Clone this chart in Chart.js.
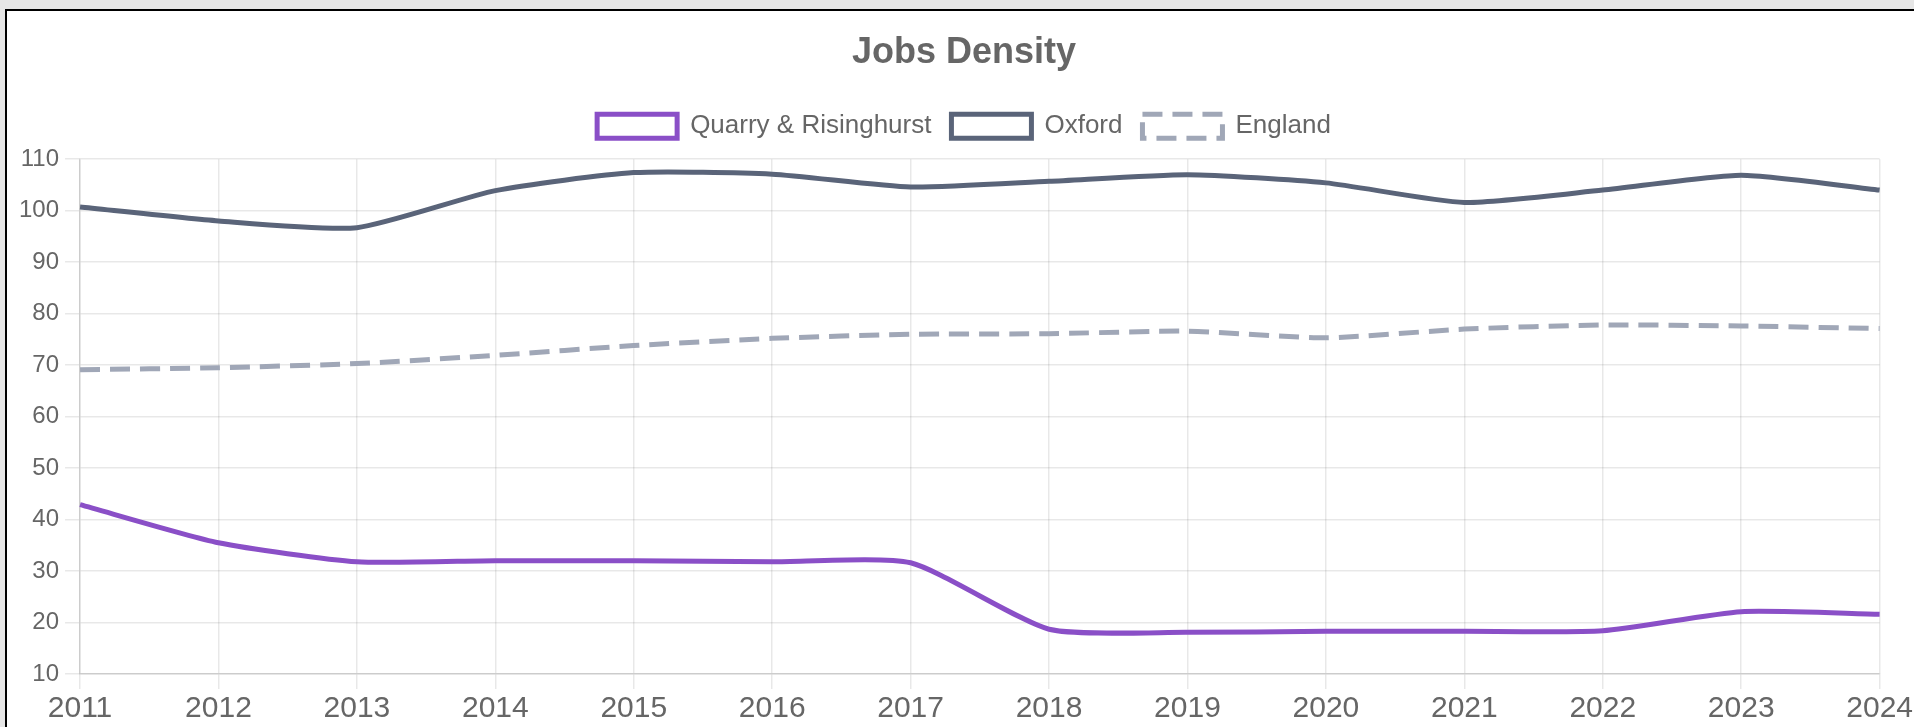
<!DOCTYPE html>
<html>
<head>
<meta charset="utf-8">
<script src="https://cdn.jsdelivr.net/npm/chart.js@4.4.0/dist/chart.umd.min.js"></script>
<style>
  html, body { margin: 0; padding: 0; background: #e6e6e6; overflow: hidden; width: 1914px; height: 727px; }
  #box { position: absolute; left: 5px; top: 9px; width: 1960px; height: 800px; border: 2px solid #000; background: #fff; }
  #wrap { position: absolute; left: 0px; top: 0px; width: 1908px; height: 718px; }
</style>
</head>
<body>
<div id="box"><div id="wrap"><canvas id="c"></canvas></div></div>
<script>
const years = ['2011','2012','2013','2014','2015','2016','2017','2018','2019','2020','2021','2022','2023','2024'];
const quarry = [42.9, 35.5, 31.8, 32.0, 32.0, 31.8, 31.6, 18.7, 18.1, 18.3, 18.3, 18.4, 22.1, 21.6];
const oxford = [100.7, 98.0, 96.7, 103.9, 107.4, 107.1, 104.6, 105.7, 107.0, 105.4, 101.6, 104.0, 106.9, 104.0];
const england = [69.1, 69.5, 70.3, 71.9, 73.8, 75.2, 76.0, 76.1, 76.6, 75.3, 77.0, 77.8, 77.6, 77.1];
const yTicks = [10, 20, 30, 40, 50, 60, 70, 80, 90, 100, 110];

const FONT = "'Liberation Sans', Arial, sans-serif";
const legendGap = {
  id: 'legendGap',
  beforeInit(chart) {
    const lg = chart.legend;
    if (!lg) return;
    const orig = lg.fit;
    lg.fit = function () { orig.call(this); this.height += 10; };
  }
};
new Chart(document.getElementById('c'), {
  type: 'line',
  plugins: [legendGap],
  data: {
    labels: years,
    datasets: [
      { label: 'Quarry & Risinghurst', data: quarry, borderColor: '#8a4fc7', backgroundColor: '#ffffff', borderWidth: 5, pointRadius: 0, tension: 0.2, fill: false },
      { label: 'Oxford', data: oxford, borderColor: '#5a6479', backgroundColor: '#ffffff', borderWidth: 5, pointRadius: 0, tension: 0.2, fill: false },
      { label: 'England', data: england, borderColor: '#a0a7b7', backgroundColor: '#ffffff', borderWidth: 5, borderDash: [20, 10], pointRadius: 0, tension: 0.2, fill: false }
    ]
  },
  options: {
    responsive: true,
    maintainAspectRatio: false,
    animation: false,
    devicePixelRatio: 1,
    layout: { padding: { left: 6, right: 0, top: 6, bottom: 0 } },
    plugins: {
      title: { display: true, text: 'Jobs Density', color: '#666', font: { family: FONT, size: 36, weight: 'bold' }, padding: { top: 14, bottom: 19 } },
      legend: {
        labels: { color: '#666', font: { family: FONT, size: 26 }, boxWidth: 80, boxHeight: 24, padding: 20 }
      },
      tooltip: { enabled: false }
    },
    scales: {
      x: {
        grid: { color: 'rgba(0,0,0,0.09)', lineWidth: 1.5, tickLength: 15 },
        border: { color: 'rgba(0,0,0,0.12)', width: 1.5 },
        ticks: { color: '#666', font: { family: FONT, size: 30 }, maxRotation: 0, padding: 2 }
      },
      y: {
        min: yTicks[0], max: yTicks[yTicks.length - 1],
        afterBuildTicks: (s) => { s.ticks = yTicks.map(v => ({ value: v })); },
        grid: { color: 'rgba(0,0,0,0.09)', lineWidth: 1.5, tickLength: 15 },
        border: { color: 'rgba(0,0,0,0.12)', width: 1.5 },
        ticks: { color: '#666', font: { family: FONT, size: 24 }, padding: 6 }
      }
    }
  }
});
</script>
</body>
</html>
